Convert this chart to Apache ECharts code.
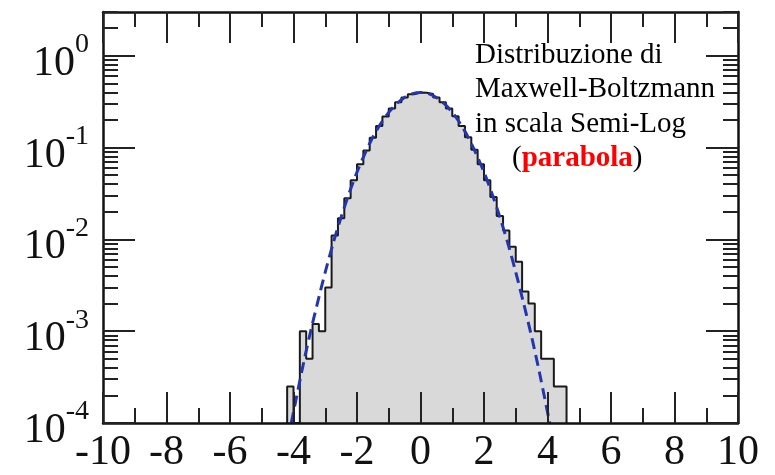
<!DOCTYPE html>
<html><head><meta charset="utf-8">
<script src="https://cdn.jsdelivr.net/npm/echarts@6/dist/echarts.min.js"></script>
<style>html,body{margin:0;padding:0;background:#fff}#c{width:775px;height:475px}</style>
</head><body><div id="c"></div>
<script>
// ---- data ----
const binEdges = [-4.2,-4.0,-3.8,-3.6,-3.4,-3.2,-3.0,-2.8,-2.6,-2.4,-2.2,-2.0,-1.8,-1.6,-1.4,-1.2,-1.0,-0.8,-0.6,-0.4,-0.2,0.0,
                  0.2,0.4,0.6,0.8,1.0,1.2,1.4,1.6,1.8,2.0,2.2,2.4,2.6,2.8,3.0,3.2,3.4,3.6,3.8,4.0,4.2,4.4,4.6];
const histValues = [2.5e-4,0,1.0e-3,5.0e-4,1.2e-3,1.0e-3,3.0e-3,1.1e-2,1.7e-2,2.8e-2,4.4e-2,6.6e-2,9.3e-2,0.128,0.172,0.218,0.266,0.312,0.351,0.381,0.398,
                    0.396,0.383,0.352,0.311,0.267,0.219,0.172,0.130,0.095,0.066,0.044,0.029,0.018,0.0125,8.3e-3,5.7e-3,2.7e-3,2.0e-3,1.0e-3,5.0e-4,5.0e-4,2.5e-4,2.5e-4];
const curveX = [-4.07,-3.75,-3.5,-3.25,-3.0,-2.75,-2.5,-2.25,-2.0,-1.75,-1.5,-1.25,-1.0,-0.75,-0.5,-0.25,0,
                0.25,0.5,0.75,1.0,1.25,1.5,1.75,2.0,2.25,2.5,2.75,3.0,3.25,3.5,3.75,4.07];
const curveY = [1.0e-4,3.5e-4,8.7e-4,2.0e-3,4.4e-3,9.1e-3,1.75e-2,3.17e-2,5.4e-2,8.6e-2,0.130,0.183,0.242,0.301,0.352,0.387,0.399,
                0.387,0.352,0.301,0.242,0.183,0.130,0.086,0.054,0.0317,0.0175,9.1e-3,4.4e-3,2.0e-3,8.7e-4,3.5e-4,1.0e-4];
const yMajorTicks = [1e-4,1e-3,1e-2,1e-1,1];
const yMinorTicks = [2e-4,3e-4,4e-4,5e-4,6e-4,7e-4,8e-4,9e-4,
                     2e-3,3e-3,4e-3,5e-3,6e-3,7e-3,8e-3,9e-3,
                     2e-2,3e-2,4e-2,5e-2,6e-2,7e-2,8e-2,9e-2,
                     0.2,0.3,0.4,0.5,0.6,0.7,0.8,0.9,2,3];
const X_MIN = -10, X_MAX = 10, X_STEP = 2;
const Y_MIN = 1e-4, Y_MAX = 3;
const textLines = ['Distribuzione di','Maxwell-Boltzmann','in scala Semi-Log'];
const textRed = 'parabola';

// ---- build ----
const histData = [[binEdges[0], Y_MIN]];
for (let i = 0; i < histValues.length; i++) histData.push([binEdges[i], histValues[i] > 0 ? histValues[i] : Y_MIN]);
histData.push([binEdges[binEdges.length-1], Y_MIN]);
const curveData = curveX.map((x,i)=>[x,curveY[i]]);

const FONT = '"Liberation Serif","Times New Roman",serif';
const lineCol = '#111';
function yAxisDef(pos, major, showLine) {
  return {
    type:'log', logBase:10, min:Y_MIN, max:Y_MAX, position:pos, z:10,
    axisLine:{show:showLine, onZero:false, lineStyle:{color:lineCol,width:2.5}},
    axisTick:{show:true, inside:true, length: major?32:15, customValues: major?yMajorTicks:yMinorTicks, lineStyle:{color:'#222',width:2}},
    axisLabel:(major && pos==='left') ? {
      show:true, customValues:yMajorTicks, margin:14, padding:[16,0,0,0],
      formatter: v => '{b|10}{s|' + Math.round(Math.log10(v)) + '}',
      rich:{ b:{fontSize:42, lineHeight:66, fontFamily:FONT, color:'#111'},
             s:{fontSize:28, lineHeight:28, fontFamily:FONT, color:'#111', verticalAlign:'top'} }
    } : {show:false},
    splitLine:{show:false}
  };
}
function xAxisDef(pos, labels) {
  return {
    type:'value', min:X_MIN, max:X_MAX, interval:X_STEP, position:pos, z:10,
    axisLine:{show:true, onZero:false, lineStyle:{color:lineCol,width:2.5}},
    axisTick:{show:true, inside:true, length:31, lineStyle:{color:'#222',width:2}},
    minorTick:{show:true, splitNumber:2, length:15, lineStyle:{color:'#222',width:2}},
    axisLabel:{show:labels, margin:9, fontSize:42, fontFamily:FONT, color:'#111'},
    splitLine:{show:false}, minorSplitLine:{show:false}
  };
}
const chart = echarts.init(document.getElementById('c'), null, {renderer:'canvas'});
chart.setOption({
  animation:false,
  backgroundColor:'#fff',
  grid:{left:103, right:37, top:12, bottom:52, containLabel:false},
  xAxis:[xAxisDef('bottom', true), xAxisDef('top', false)],
  yAxis:[yAxisDef('left', true, true), yAxisDef('left', false, false), yAxisDef('right', true, true), yAxisDef('right', false, false)],
  series:[
    {type:'line', xAxisIndex:0, yAxisIndex:0, data:histData, step:'end', showSymbol:false, z:2,
     lineStyle:{color:'#1a1a1a', width:2}, areaStyle:{color:'#d9d9d9', opacity:1, origin:Y_MIN}},
    {type:'line', xAxisIndex:0, yAxisIndex:0, data:curveData, smooth:0.3, showSymbol:false, z:3,
     lineStyle:{color:'#2236b0', width:3, type:[11,6]}}
  ],
  graphic:[
    {type:'text', left:475, top:38, z:20, style:{text:textLines.join('\n'), fontSize:29, fontFamily:FONT, lineHeight:34.5, fill:'#000'}},
    {type:'text', left:512, top:38+3*34.5, z:20, style:{text:'{n|(}{r|'+textRed+'}{n|)}', fontSize:29, fontFamily:FONT, lineHeight:34.5, fill:'#000',
      rich:{n:{fontSize:29, fontFamily:FONT, fill:'#000'}, r:{fontSize:29, fontFamily:FONT, fontWeight:'bold', fill:'#ff0000'}}}}
  ]
});
</script></body></html>
